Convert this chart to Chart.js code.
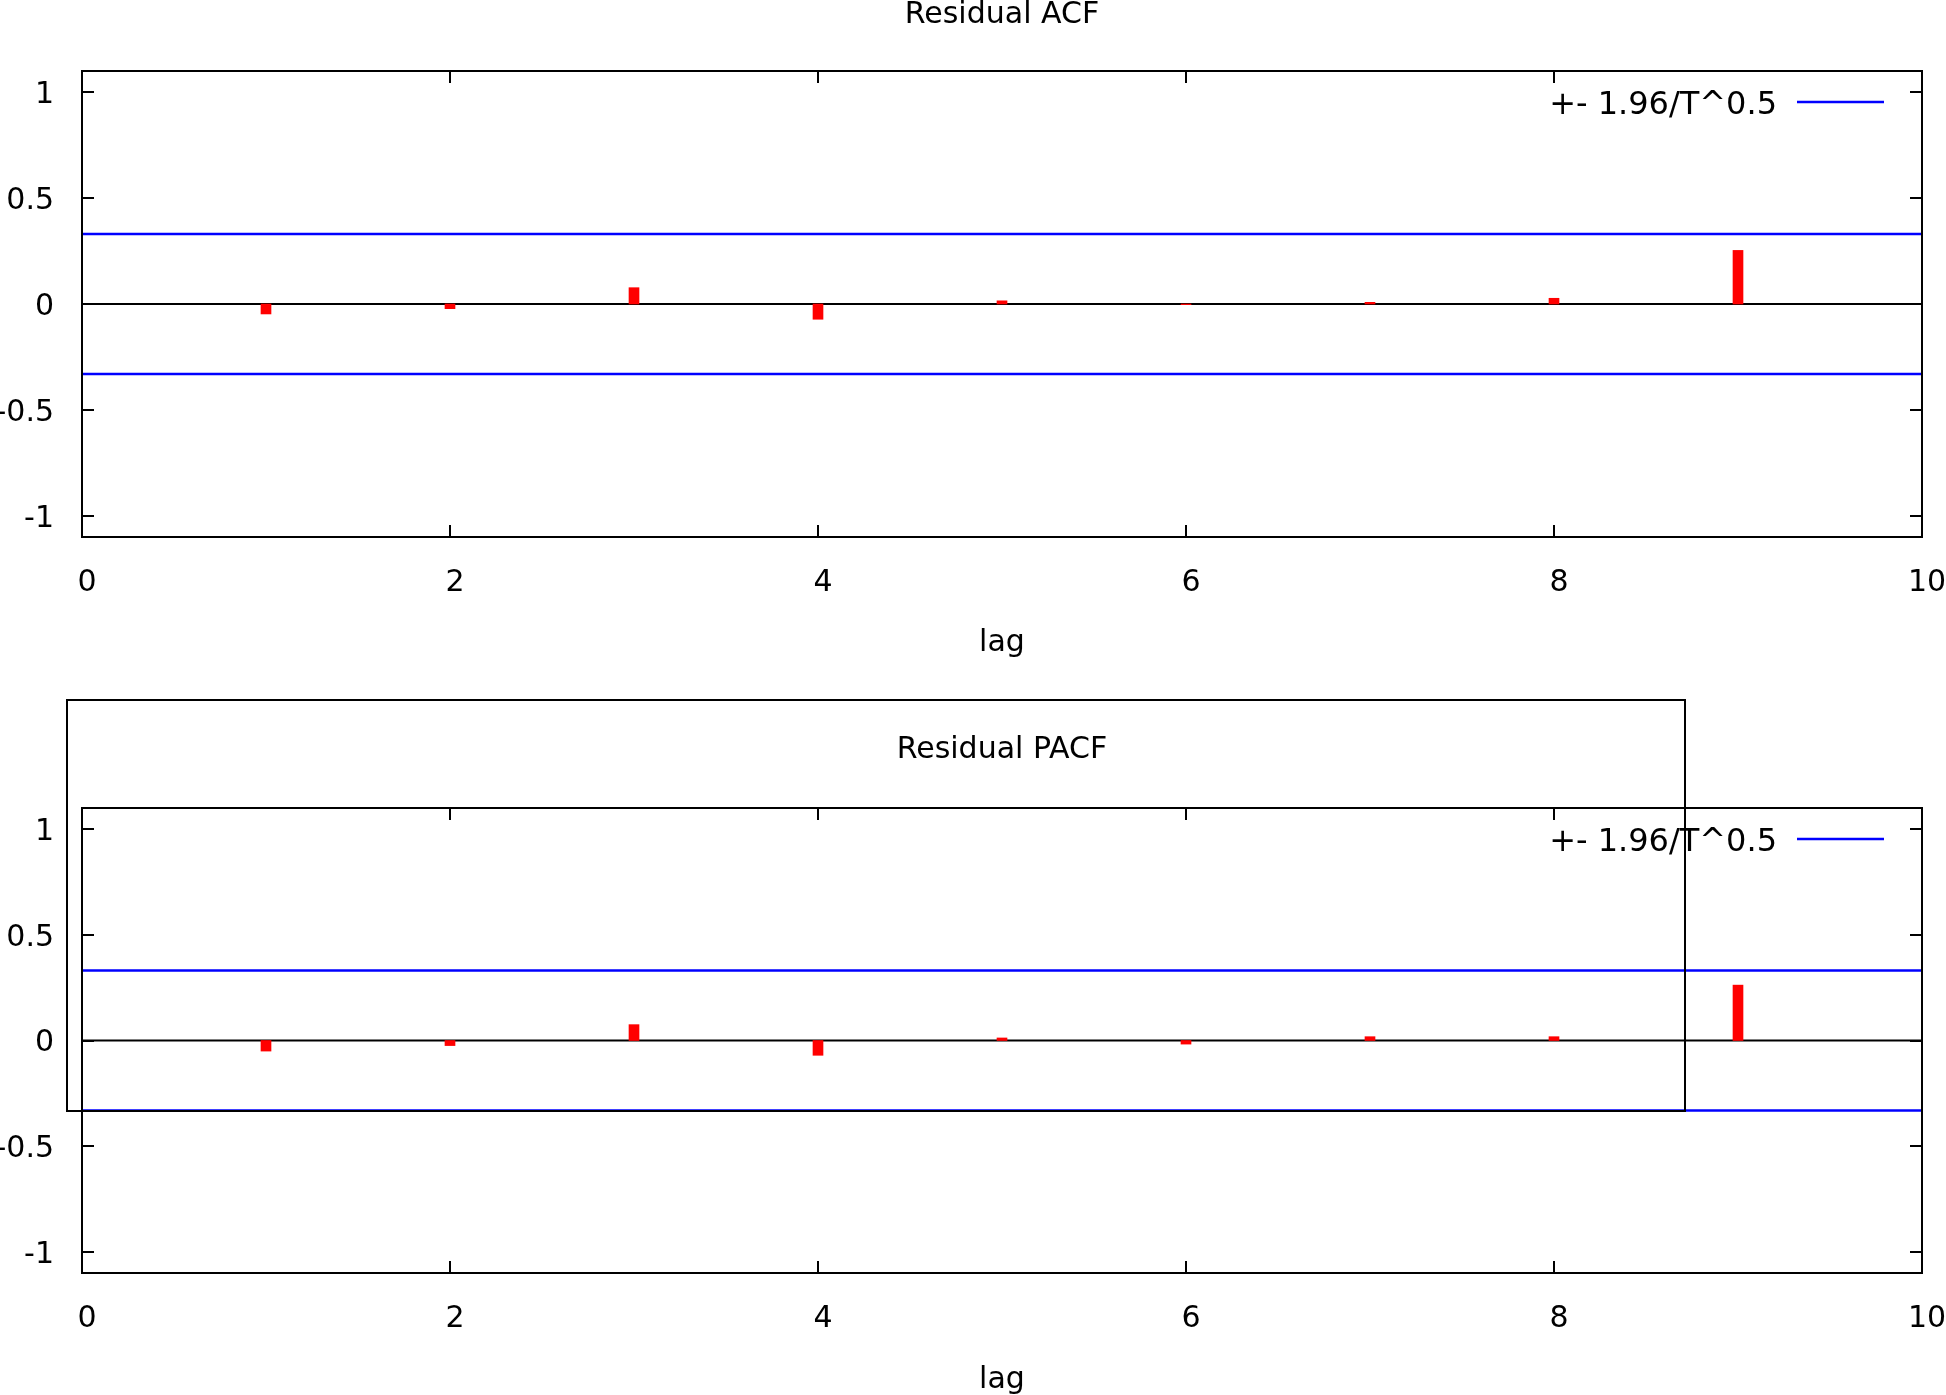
<!DOCTYPE html>
<html>
<head>
<meta charset="utf-8">
<script src="https://cdn.jsdelivr.net/npm/chart.js@4.4.1/dist/chart.umd.min.js"></script>
<style>
  html, body { margin: 0; padding: 0; background: #fff; overflow: hidden; }
  #wrap { position: relative; width: 1946px; height: 1395px; }
  .panel { position: absolute; left: 0; width: 1946px; }
  #acfPanel { top: 0; height: 690px; }
  #pacfPanel { top: 690px; height: 705px; }
</style>
</head>
<body>
<div id="wrap">
  <div class="panel" id="acfPanel"><canvas id="acfChart" width="1946" height="690"></canvas></div>
  <div class="panel" id="pacfPanel"><canvas id="pacfChart" width="1946" height="705"></canvas></div>
</div>
<script>
// ---- data ----
const lags = [1, 2, 3, 4, 5, 6, 7, 8, 9];
const acfValues = [-0.047, -0.022, 0.077, -0.072, 0.015, -0.003, 0.008, 0.027, 0.253];
const pacfValues = [-0.05, -0.024, 0.075, -0.07, 0.012, -0.017, 0.018, 0.018, 0.262];
const bandLimit = 0.331;
const bandLabel = "+- 1.96/T^0.5";
const xTicks = [0, 2, 4, 6, 8, 10];
const yTicks = [-1, -0.5, 0, 0.5, 1];

const FONT = "'DejaVu Sans', Verdana, sans-serif";

// gnuplot look: border, inward mirrored ticks, key with the sample on the right
const gnuplotFrame = {
  id: "gnuplotFrame",
  afterDatasetsDraw(chart, args, opts) {
    const { ctx, chartArea: a, scales: { x, y } } = chart;
    ctx.save();
    ctx.strokeStyle = "#000";
    ctx.lineWidth = 2;
    ctx.strokeRect(a.left, a.top, a.right - a.left, a.bottom - a.top);
    const tl = 12;
    ctx.beginPath();
    xTicks.forEach(v => {
      if (v <= x.min || v >= x.max) return;
      const px = Math.round(x.getPixelForValue(v));
      ctx.moveTo(px, a.bottom); ctx.lineTo(px, a.bottom - tl);
      ctx.moveTo(px, a.top); ctx.lineTo(px, a.top + tl);
    });
    yTicks.forEach(v => {
      const py = Math.round(y.getPixelForValue(v));
      ctx.moveTo(a.left, py); ctx.lineTo(a.left + tl, py);
      ctx.moveTo(a.right, py); ctx.lineTo(a.right - tl, py);
    });
    ctx.stroke();

    // key
    const band = chart.data.datasets[1];
    ctx.font = "32px " + FONT;
    ctx.fillStyle = "#000";
    ctx.textAlign = "right";
    ctx.textBaseline = "middle";
    ctx.fillText(band.label, a.right - 145, a.top + 35);
    ctx.strokeStyle = band.borderColor;
    ctx.lineWidth = band.borderWidth;
    ctx.beginPath();
    ctx.moveTo(a.right - 125, a.top + 31);
    ctx.lineTo(a.right - 38, a.top + 31);
    ctx.stroke();
    ctx.restore();
  },
  afterDraw(chart, args, opts) {
    const { ctx, chartArea: a } = chart;
    ctx.save();
    if (opts.box) {
      ctx.strokeStyle = "#000";
      ctx.lineWidth = 2;
      ctx.strokeRect(opts.box[0], opts.box[1], opts.box[2], opts.box[3]);
    }
    ctx.font = "30px " + FONT;
    ctx.fillStyle = "#000";
    ctx.textAlign = "center";
    ctx.textBaseline = "middle";
    ctx.fillText(opts.title, (a.left + a.right) / 2, opts.titleY);
    ctx.restore();
  }
};

function makeCorrChart(canvasId, values, cfg) {
  return new Chart(document.getElementById(canvasId).getContext("2d"), {
    type: "bar",
    data: {
      datasets: [
        {
          type: "bar",
          label: "corr",
          data: lags.map((l, i) => ({ x: l, y: values[i] })),
          backgroundColor: "#ff0000",
          barThickness: 10,
          order: 2,
        },
        {
          type: "line",
          label: bandLabel,
          data: [{ x: 0, y: bandLimit }, { x: 10, y: bandLimit }],
          borderColor: "#0000ff",
          borderWidth: 2.5,
          pointRadius: 0,
          order: 1,
        },
        {
          type: "line",
          label: "lower",
          data: [{ x: 0, y: -bandLimit }, { x: 10, y: -bandLimit }],
          borderColor: "#0000ff",
          borderWidth: 2.5,
          pointRadius: 0,
          order: 1,
        },
        {
          type: "line",
          label: "zero",
          data: [{ x: 0, y: 0 }, { x: 10, y: 0 }],
          borderColor: "#000",
          borderWidth: 2,
          pointRadius: 0,
          order: 3,
        },
      ],
    },
    options: {
      responsive: false,
      animation: false,
      devicePixelRatio: 1,
      layout: { padding: { top: cfg.padTop, right: 24, left: 0, bottom: 0 } },
      plugins: {
        legend: { display: false },
        tooltip: { enabled: false },
        gnuplotFrame: { title: cfg.title, titleY: cfg.titleY, box: cfg.box },
      },
      scales: {
        x: {
          type: "linear",
          min: 0, max: 10,
          offset: false,
          afterBuildTicks: s => { s.ticks = xTicks.map(v => ({ value: v })); },
          afterFit: s => { s.height = cfg.xHeight; s.paddingLeft = 0; s.paddingRight = 0; },
          grid: { display: false, offset: false },
          border: { display: false },
          ticks: { color: "#000", font: { family: FONT, size: 30 }, padding: 20, labelOffset: 5, maxRotation: 0 },
          title: { display: true, text: "lag", color: "#000", font: { family: FONT, size: 30 }, padding: { top: 0, bottom: cfg.lagPad } },
        },
        y: {
          min: -1.1, max: 1.1,
          afterBuildTicks: s => { s.ticks = yTicks.map(v => ({ value: v })); },
          afterFit: s => { s.width = 82; s.paddingTop = 0; s.paddingBottom = 0; },
          grid: { display: false },
          border: { display: false },
          ticks: { color: "#000", font: { family: FONT, size: 30 }, padding: 20, labelOffset: 3, callback: v => String(v) },
        },
      },
    },
    plugins: [gnuplotFrame],
  });
}

makeCorrChart("acfChart", acfValues, { title: "Residual ACF", titleY: 15, padTop: 71, xHeight: 153, lagPad: 29 });
makeCorrChart("pacfChart", pacfValues, { title: "Residual PACF", titleY: 60, padTop: 118, xHeight: 122, lagPad: -3, box: [67, 10, 1618, 411] });
</script>
</body>
</html>
